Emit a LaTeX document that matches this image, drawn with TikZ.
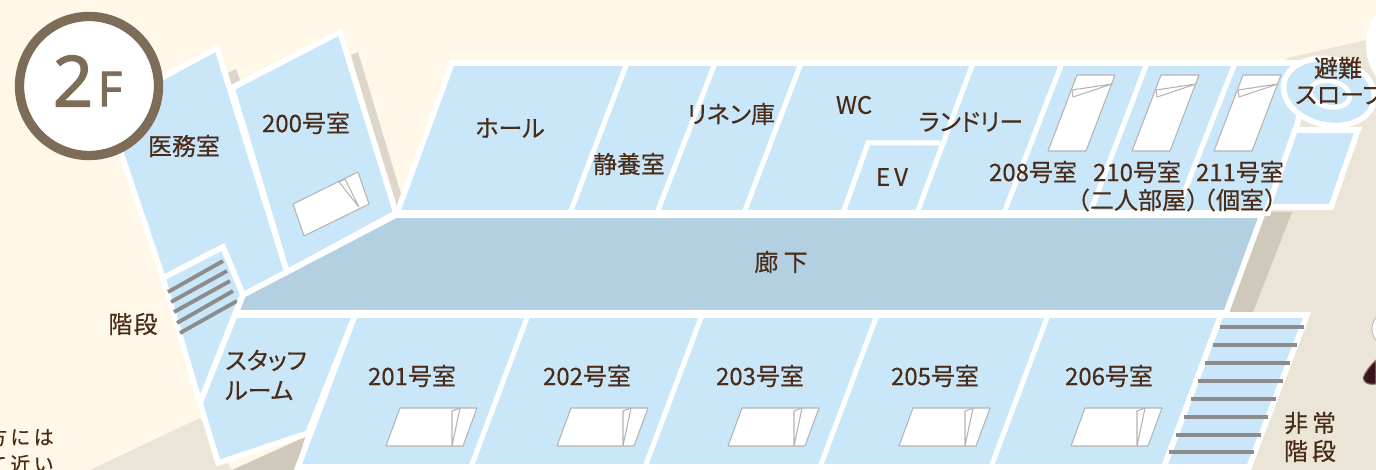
\documentclass[tikz,border=0pt]{standalone}
\usepackage{fontspec}
\setmainfont{Noto Sans CJK JP}[FakeBold=0.35]
\newfontfamily\kanafont{Noto Sans CJK JP}[FakeBold=0.35,RawFeature=+palt]
\newfontfamily\latinbig{Noto Sans}[FakeBold=1.6]
\usetikzlibrary{calc}
\definecolor{cream}{HTML}{FFF8E8}
\definecolor{paper}{HTML}{EBE5D8}
\definecolor{darkpaper}{HTML}{CFC9BC}
\definecolor{wallshade}{HTML}{DDD7CB}
\definecolor{roomblue}{HTML}{C9E7F9}
\definecolor{hallblue}{HTML}{B3CFE2}
\definecolor{inkbrown}{HTML}{4A2B17}
\definecolor{ringbrown}{HTML}{7D6C58}
\definecolor{stairgrey}{HTML}{8C8C8C}
\definecolor{bedgrey}{HTML}{B4B4B4}
\definecolor{berry}{HTML}{3C1420}
\tikzset{
  x=0.75pt,y=-0.75pt,
  room/.style={fill=roomblue,draw=white,line width=4.2pt,line join=miter},
  hall/.style={fill=hallblue,draw=white,line width=4.2pt,line join=miter},
  wall/.style={draw=white,line width=3.75pt},
  tread/.style={draw=stairgrey,line width=2.9pt},
  bed/.style={fill=white,draw=bedgrey,line width=0.8pt,line join=round},
  lbl/.style={text=inkbrown,font=\fontsize{18}{22}\selectfont,inner sep=0pt,align=center},
  kana/.style={text=inkbrown,font=\kanafont\fontsize{18}{22.5}\selectfont,inner sep=0pt,align=center},
  smalllbl/.style={text=inkbrown,font=\fontsize{15}{18}\selectfont,inner sep=0pt,anchor=east}
}
\begin{document}
\begin{tikzpicture}
\useasboundingbox (0,0) rectangle (1376,470);
\clip (0,0) rectangle (1376,470);
% ground
\fill[cream] (0,0) rectangle (1376,470);
\fill[paper] (1287,58) -- (1376,38) -- (1376,470) -- (1240,470) -- (1260,212) -- cycle;
\fill[paper] (90,470) -- (200,418) -- (232,470) -- cycle;
\fill[darkpaper] (218,470) -- (232,470) -- (305,437) -- (296,470) -- cycle;
\fill[darkpaper] (1262,212) -- (1292,212) -- (1253,312) -- (1226,312) -- cycle;
\fill[wallshade] (351,55) -- (358,52) -- (402,197) -- (396,208) -- cycle;
\fill[wallshade] (228,73) -- (236,69) -- (240,80) -- (231,85) -- cycle;
% white disc and mark at right edge
\fill[white] (1420,45) circle (54);
\fill[white,draw=bedgrey,line width=0.6pt] (1390,329) circle (18);
\path[fill=berry,draw=berry!60!white,line width=0.8pt] (1363,378) .. controls (1365,372) and (1370,366) .. (1376,360) -- (1376,384) .. controls (1370,385) and (1364,384) .. (1363,378) -- cycle;
% top row
\path[room] (452,63) -- (1310,63) -- (1296,130) -- (1268,213) -- (397,213) -- cycle;
\draw[wall] (627,63) -- (570,213);
\draw[wall] (715,63) -- (657,213);
\draw[wall] (801,63) -- (744,213);
\draw[wall] (973,63) -- (917,213);
\draw[wall] (1062,63) -- (1004,213);
\draw[wall] (1147,63) -- (1090,213);
\draw[wall] (1235,63) -- (1176,213);
\draw[wall,line join=miter] (843,213) -- (868,143) -- (940,143);
% right piece and ramp
\path[room] (1295,130) -- (1358,130) -- (1331,207) -- (1268,207) -- cycle;
\path[room] (1329,92) ellipse[x radius=46,y radius=33,rotate=-12];
\path[fill=roomblue,draw=white,line width=3.4pt] (1330,94) ellipse[x radius=20,y radius=13,rotate=-12];
% left wing
\path[room] (106,108) -- (217,48) -- (287,272) -- (243,295) -- (223,247) -- (163,278) -- cycle;
\path[room] (232,88) -- (340,32) -- (396,213) -- (287,272) -- cycle;
% left stairs
\path[room] (163,278) -- (223,247) -- (243,295) -- (235,314) -- (200,403) -- cycle;
\draw[tread] (168,292) -- (223,261);
\draw[tread] (171,302) -- (227,271);
\draw[tread] (174,312) -- (230,281);
\draw[tread] (177,323) -- (233,291);
\draw[tread] (180,333) -- (237,301);
% corridor
\path[hall] (396,215) -- (1262,215) -- (1226,313) -- (236,313) -- (243,295) -- cycle;
% staff room
\path[room] (235,315) -- (355,315) -- (308,433) -- (218,463) -- (200,403) -- cycle;
% bottom row
\path[room] (355,315) -- (1221,315) -- (1164,467) -- (298,467) -- cycle;
\draw[wall] (528,315) -- (471,467);
\draw[wall] (702,315) -- (645,467);
\draw[wall] (877,315) -- (820,467);
\draw[wall] (1048,315) -- (991,467);
% right stairs
\path[room] (1221,315) -- (1307,315) -- (1249,467) -- (1164,467) -- cycle;
\foreach \yy/\xa/\xb in {327/1220/1304,345/1213/1297,363/1205/1290,381/1198/1283,399/1191/1276,417/1184/1268,435/1176/1261,452/1169/1254}
  \draw[tread] (\xa,\yy) -- (\xb,\yy);
% beds, bottom row
\foreach \dx in {0,171,342,513,685}{
  \begin{scope}[xshift=\dx*0.75pt]
  \path[bed] (400,408) -- (477,408) -- (463,446) -- (386,446) -- cycle;
  \path[bed] (452,446) -- (452,411) -- (460,408) -- cycle;
  \end{scope}}
% beds, top row
\foreach \dx in {0,84,166}{
  \begin{scope}[xshift=\dx*0.75pt]
  \path[bed] (1077,75) -- (1115,75) -- (1086,151) -- (1048,151) -- cycle;
  \path[bed] (1112,84) -- (1072,90) -- (1073,97) -- cycle;
  \end{scope}}
% bed, room 200
\path[bed] (293,204) -- (358,172) -- (369,204) -- (304,236) -- cycle;
\path[bed] (339,182) -- (345,179) -- (359,207) -- cycle;
% floor badge
\path[fill=white,draw=ringbrown,line width=7pt] (89,86) circle (69.5);
\node[text=ringbrown,font=\latinbig\fontsize{53}{60}\selectfont,inner sep=0pt] (flnum) at (73,81) {2};
\node[text=ringbrown,font=\latinbig\fontsize{36}{40}\selectfont,inner sep=0pt] (flf) at (110,89) {F};
% labels
\node[lbl] (a1) at (184,146) {医務室};
\node[lbl] (a2) at (306,123) {200号室};
\node[lbl] (a3) at (133,324) {階\hspace{1pt}段};
\node[kana,align=left,anchor=west] (a4) at (225,375) {スタッフ\\ルーム};
\node[lbl] (b1) at (412,376) {201号室};
\node[lbl] (b2) at (587,376) {202号室};
\node[lbl] (b3) at (760,376) {203号室};
\node[lbl] (b4) at (935,376) {205号室};
\node[lbl] (b5) at (1109,376) {206号室};
\node[kana] (t1) at (510,128) {ホール};
\node[lbl] (t2) at (629,164) {静養室};
\node[kana] (t3) at (731,114) {リネン庫};
\node[lbl] (t4) at (854,105) {WC};
\node[kana] (t5) at (971,122) {ランドリー};
\node[lbl] (t6) at (892,177) {E\,V};
\node[lbl] (t7) at (1033,172) {208号室};
\node[lbl] (t8) at (1137,172) {210号室};
\node[lbl] (t9) at (1240,172) {211号室};
\node[lbl] (t10) at (1138,200) {（二人部屋）};
\node[lbl] (t11) at (1240,200) {（個室）};
\node[lbl] (c1) at (781,262) {廊\hspace{4pt}下};
\node[lbl] (s1) at (1310,423) {非\,常};
\node[lbl] (s2) at (1310,451) {階\,段};
\node[lbl] (r1) at (1338,68) {避難};
\node[kana,anchor=west] (r2) at (1295,94) {スロープ};
\node[smalllbl] (n1) at (54,437) {方\,に\,は};
\node[smalllbl] (n2) at (54,464) {て\,近\,い};
\end{tikzpicture}
\end{document}
